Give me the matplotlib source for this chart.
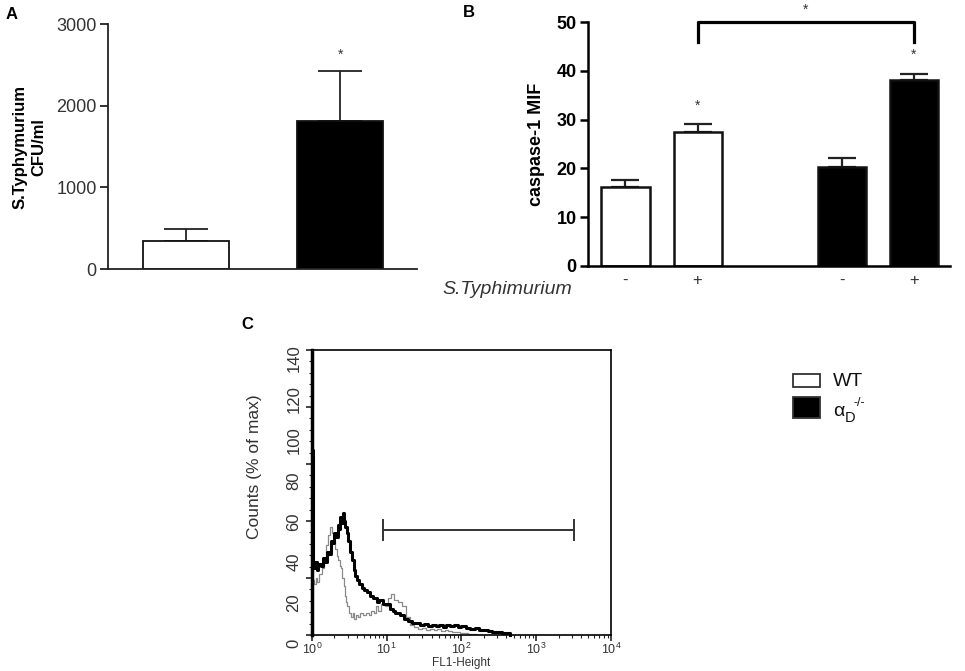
import matplotlib
matplotlib.use("Agg")
from matplotlib import pyplot as plt
from matplotlib.patches import Rectangle
import numpy as np

plt.rcParams['font.family'] = ['Liberation Sans', 'DejaVu Sans']

# panel A: bacterial load
a_groups = ['WT', 'aD-/-']
a_values = [340, 1813]
a_err = [156, 614]
a_colors = ['white', 'black']

# panel B: caspase-1 MIF
b_pos = [0, 1, 3, 4]
b_values = [16.2, 27.4, 20.3, 38.2]
b_err = [1.4, 1.6, 1.8, 1.1]
b_colors = ['white', 'white', 'black', 'black']
b_ticklabels = ['-', '+', '-', '+']

# panel C: flow histograms (FL1-Height vs counts % of max)
c_x = [1.0, 1.02, 1.05, 1.1, 1.15, 1.2, 1.3, 1.4, 1.5, 1.6, 1.7, 1.8, 1.9, 2.0,
       2.1, 2.2, 2.3, 2.4, 2.5, 2.6, 2.7, 2.8, 2.9, 3.0, 3.2, 3.4, 3.6, 3.8, 4.0,
       4.3, 4.6, 5.0, 5.5, 6.0, 6.5, 7.0, 7.5, 8.0, 9.0, 10, 11, 12, 13, 15, 17,
       19, 22, 25, 28, 32, 36, 40, 45, 50, 56, 63, 70, 80, 90, 100, 115, 130,
       150, 170, 200, 230, 260, 300, 350, 400, 450]
c_ko = [91, 34, 33, 36, 32, 35, 34, 38, 36, 41, 40, 46, 45, 50,
        48, 54, 52, 58, 55, 60, 56, 53, 50, 46, 41, 37, 32, 29, 27,
        25, 23, 22, 21, 19, 18, 18, 16, 17, 15, 15, 13, 12, 11, 10, 8,
        7, 6, 6, 5, 5.5, 4.5, 5, 4.5, 5, 4, 5, 4.5, 5, 4, 4.5, 3.5, 3,
        3.5, 2.5, 2.5, 2, 1.5, 1.5, 1, 0.8, 0]
c_wt = [30, 28, 27, 25, 28, 26, 30, 33, 38, 44, 49, 53, 50, 46,
        42, 39, 37, 34, 33, 28, 24, 19, 16, 14, 11, 9, 11, 8, 10,
        9, 11, 10, 11, 10, 12, 11, 14, 12, 15, 14, 18, 20, 17, 16, 14,
        9, 5, 4, 3, 3.5, 2.5, 3, 2.5, 3, 2, 2.5, 2, 1.5, 1.5, 1, 1, 0.5,
        0.5, 0, 0, 0, 0, 0, 0, 0, 0]
c_yticks = [0, 20, 40, 60, 80, 100, 120, 140]
gate = [8.9, 3200, 51.6]

fig = plt.figure(figsize=(9.65, 6.71), dpi=100)
W, H = 965, 671

# ---- A
axA = fig.add_axes([0.1119, 0.599, 0.320, 0.365])
axA.bar([0, 1], a_values, width=0.556, color=a_colors, edgecolor='#111', linewidth=1.3, zorder=2)
axA.errorbar([0, 1], a_values, yerr=[[0, 0], a_err], fmt='none', ecolor='#222',
             elinewidth=1.3, capsize=15.5, capthick=1.3, zorder=1)
axA.set_xlim(-0.505, 1.495)
axA.set_ylim(0, 3000)
axA.set_yticks([0, 1000, 2000, 3000])
axA.set_xticks([])
for s in ['top', 'right']:
    axA.spines[s].set_visible(False)
for s in ['left', 'bottom']:
    axA.spines[s].set_linewidth(1.3)
    axA.spines[s].set_color('#222')
axA.tick_params(axis='y', direction='out', length=6, width=1.3, color='#222',
                labelsize=13, labelcolor='#333', pad=2)
axA.set_ylabel('S.Typhymurium\nCFU/ml', fontsize=12, fontweight='bold', linespacing=1.35)
axA.yaxis.set_label_coords(-0.198, 0.5)
axA.text(1, 2620, '*', ha='center', va='center', fontsize=10, color='#333')
fig.text(0.006, 0.978, 'A', fontsize=12, fontweight='bold', va='center')

# ---- B
axB = fig.add_axes([0.6093, 0.6036, 0.3751, 0.3636])
axB.bar(b_pos, b_values, width=0.667, color=b_colors, edgecolor='#111', linewidth=1.8, zorder=2)
axB.errorbar(b_pos, b_values, yerr=[[0] * 4, b_err], fmt='none', ecolor='#222',
             elinewidth=1.6, capsize=10, capthick=1.6, zorder=1)
axB.set_xlim(-0.52, 4.5)
axB.set_ylim(0, 50)
axB.set_yticks(range(0, 51, 10))
axB.set_xticks(b_pos)
axB.set_xticklabels(b_ticklabels, fontsize=12, color='#333')
for s in ['top', 'right']:
    axB.spines[s].set_visible(False)
for s in ['left', 'bottom']:
    axB.spines[s].set_linewidth(1.8)
axB.tick_params(axis='y', direction='out', length=6, width=1.8, labelsize=13, pad=2)
for lab in axB.get_yticklabels():
    lab.set_fontweight('bold')
axB.tick_params(axis='x', length=0, pad=5)
axB.set_ylabel('caspase-1 MIF', fontsize=13, fontweight='bold')
axB.yaxis.set_label_coords(-0.119, 0.5)
axB.plot([1, 1, 4, 4], [45.9, 50, 50, 45.9], color='black', lw=2.3, clip_on=False)
axB.text(2.5, 52.6, '*', ha='center', va='center', fontsize=10, color='#333', clip_on=False)
axB.text(1, 32.8, '*', ha='center', va='center', fontsize=10, color='#333')
axB.text(4, 43.2, '*', ha='center', va='center', fontsize=10, color='#333')
fig.text(0.458, 1 - 289 / H, 'S.Typhimurium', fontsize=14, style='italic', color='#333',
         ha='left', va='center')
fig.text(0.480, 0.982, 'B', fontsize=12, fontweight='bold', va='center')

# ---- C
axC = fig.add_axes([0.3233, 0.0537, 0.3098, 0.4247])
axC.plot(c_x, c_wt, color='#8a8a8a', lw=0.9, drawstyle='steps-mid')
axC.plot(c_x, c_ko, color='black', lw=2.2, drawstyle='steps-post', clip_on=False)
axC.plot([gate[0], gate[1]], [gate[2], gate[2]], color='#333', lw=1.4)
axC.plot([gate[0], gate[0]], [gate[2] - 5, gate[2] + 5], color='#333', lw=1.4)
axC.plot([gate[1], gate[1]], [gate[2] - 5, gate[2] + 5], color='#333', lw=1.4)
axC.set_xscale('log')
axC.set_xlim(1, 1e4)
axC.set_ylim(0, 140)
axC.set_yticks(np.arange(0, 141, 28))
axC.set_yticks(np.arange(0, 141, 5.6), minor=True)
axC.set_yticklabels([])
for v in c_yticks:
    axC.text(-0.06, v / 140 - 0.03, str(v), transform=axC.transAxes, rotation=90,
             ha='center', va='center', fontsize=12, color='#333')
for s in axC.spines.values():
    s.set_linewidth(1.2)
axC.spines['left'].set_linewidth(2.5)
axC.tick_params(axis='both', which='major', direction='out', length=4, width=1.2, color='#222')
axC.tick_params(axis='both', which='minor', direction='out', length=2, width=0.8, color='#222')
axC.tick_params(axis='x', labelsize=9, labelcolor='#333', pad=1)
axC.set_xlabel('FL1-Height', fontsize=8.5, color='#333', labelpad=0)
axC.set_ylabel('Counts (% of max)', fontsize=12.5, color='#333')
axC.yaxis.set_label_coords(-0.167, 0.59)
fig.text(0.250, 0.516, 'C', fontsize=12, fontweight='bold', va='center')

# legend drawn in figure pixels
fig.add_artist(Rectangle((793 / W, 1 - 387 / H), 27 / W, 13 / H, transform=fig.transFigure,
                         facecolor='white', edgecolor='#333', linewidth=1.3))
fig.add_artist(Rectangle((793 / W, 1 - 418 / H), 27 / W, 21 / H, transform=fig.transFigure,
                         facecolor='black', edgecolor='#333', linewidth=1.3))
fig.text(833 / W, 1 - 381 / H, 'WT', fontsize=14, va='center', ha='left', color='#111')
fig.text(833 / W, 1 - 411 / H, 'α', fontsize=14, va='center', ha='left', color='#111')
fig.text(845 / W, 1 - 418 / H, 'D', fontsize=10.5, va='center', ha='left', color='#111')
fig.text(853 / W, 1 - 403 / H, '-/-', fontsize=9, va='center', ha='left', color='#111')

fig.savefig('out.png', dpi=100)
